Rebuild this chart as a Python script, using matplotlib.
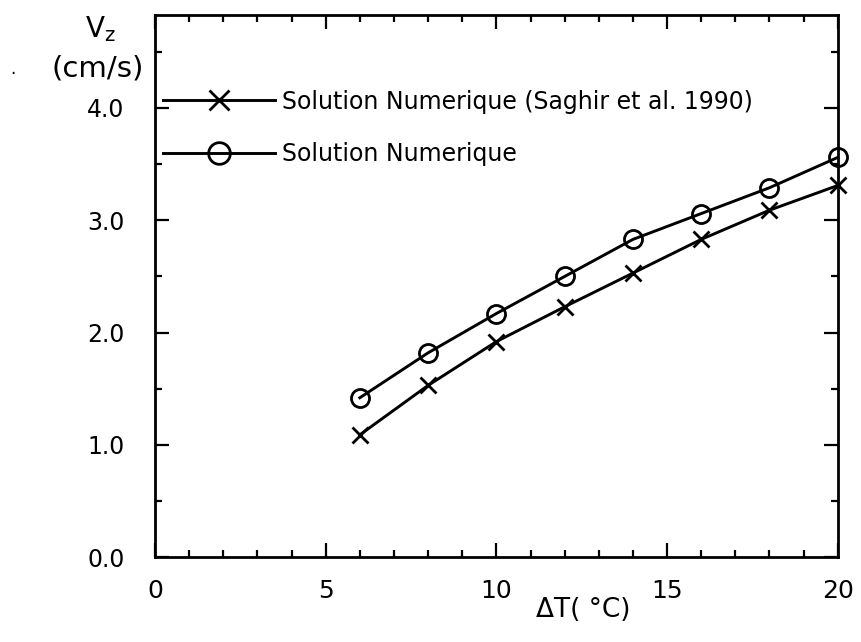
import matplotlib
matplotlib.use("Agg")
import matplotlib.pyplot as plt
from matplotlib.ticker import MultipleLocator, FormatStrFormatter

plt.rcParams.update({"font.family": "DejaVu Sans"})

# delta T (deg C) and vertical velocity Vz (cm/s)
dT = [6, 8, 10, 12, 14, 16, 18, 20]
vz_saghir = [1.09, 1.53, 1.92, 2.23, 2.53, 2.83, 3.09, 3.31]
vz_num = [1.42, 1.82, 2.17, 2.50, 2.83, 3.06, 3.29, 3.56]
labels = ["Solution Numerique (Saghir et al. 1990)", "Solution Numerique"]

fig = plt.figure(figsize=(8.61, 6.42), dpi=100)
ax = fig.add_axes([0.180, 0.132, 0.793, 0.845])

ax.plot(dT, vz_saghir, color="black", lw=2.1, marker="x", ms=12, mew=2,
        clip_on=False, label=labels[0])
ax.plot(dT, vz_num, color="black", lw=2.1, marker="o", ms=13, mew=2,
        mfc="none", clip_on=False, label=labels[1])

ax.set_xlim(0, 20)
ax.set_ylim(0, 4.83)
ax.xaxis.set_major_locator(MultipleLocator(5))
ax.xaxis.set_minor_locator(MultipleLocator(1))
ax.yaxis.set_major_locator(MultipleLocator(1))
ax.yaxis.set_minor_locator(MultipleLocator(0.5))
ax.yaxis.set_major_formatter(FormatStrFormatter("%.1f"))
ax.tick_params(which="both", direction="in", top=True, right=True, width=1.6)
ax.tick_params(which="major", length=10)
ax.tick_params(which="minor", length=5)
ax.tick_params(axis="x", labelsize=18, pad=16)
ax.tick_params(axis="y", labelsize=17, pad=22)
for s in ax.spines.values():
    s.set_linewidth(2)

leg = ax.legend(loc="upper left", bbox_to_anchor=(0.012, 0.862), frameon=False,
                fontsize=17, handlelength=4.75, handletextpad=0.3,
                labelspacing=1.2, borderpad=0, borderaxespad=0, markerscale=1.2)

# y axis label, placed above the tick labels
fig.text(0.117, 0.955, r"V$_{\mathregular{z}}$", fontsize=20, ha="center", va="center")
fig.text(0.113, 0.893, "(cm/s)", fontsize=21, ha="center", va="center")
fig.text(0.015, 0.893, ".", fontsize=12, ha="center", va="center")
# x axis label
fig.text(0.677, 0.050, "ΔT( °C)", fontsize=19, ha="center", va="center")

fig.savefig("out.png", dpi=100, facecolor="white")
